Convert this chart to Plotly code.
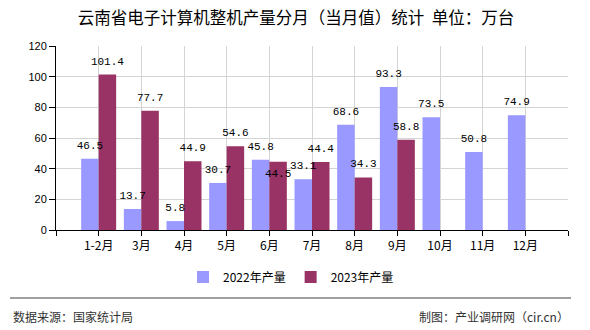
import plotly.graph_objects as go

categories = ["1-2月", "3月", "4月", "5月", "6月", "7月", "8月", "9月", "10月", "11月", "12月"]
values_2022 = [46.5, 13.7, 5.8, 30.7, 45.8, 33.1, 68.6, 93.3, 73.5, 50.8, 74.9]
values_2023 = [101.4, 77.7, 44.9, 54.6, 44.5, 44.4, 34.3, 58.8]
name_2022 = "2022年产量"
name_2023 = "2023年产量"
y_ticks = [0, 20, 40, 60, 80, 100, 120]

W, H = 590, 330
L, R, T, B = 56, 22, 46, 100
PW, PH = W - L - R, H - T - B
BAR_W = 0.41


def px_x(p):
    return (p - L) / PW


def px_y(p):
    return (H - B - p) / PH


label_font = dict(family="Liberation Mono, monospace", size=11, color="#000")
x22 = list(range(len(values_2022)))
x23 = list(range(len(values_2023)))

fig = go.Figure()
fig.add_trace(go.Bar(
    x=x22, y=values_2022, name=name_2022, width=BAR_W, offset=-BAR_W,
    marker=dict(color="#9999FF", line=dict(width=0)),
))
fig.add_trace(go.Bar(
    x=x23, y=values_2023, name=name_2023, width=BAR_W, offset=0,
    marker=dict(color="#993366", line=dict(width=0)),
))

# value labels on top of all bars (centred on each bar)
pos22 = ["top center"] * len(values_2022)
pos23 = ["top center"] * len(values_2023)
pos23[4] = "bottom center"  # reference nudges this label down to avoid 45.8
fig.add_trace(go.Scatter(
    x=[i - BAR_W / 2 for i in x22], y=values_2022, mode="markers+text",
    text=[f"{v}" for v in values_2022], textposition=pos22, textfont=label_font,
    marker=dict(size=10, color="rgba(0,0,0,0)"), showlegend=False,
    hoverinfo="skip", cliponaxis=False,
))
fig.add_trace(go.Scatter(
    x=[i + BAR_W / 2 for i in x23], y=values_2023, mode="markers+text",
    text=[f"{v}" for v in values_2023], textposition=pos23, textfont=label_font,
    marker=dict(size=10, color="rgba(0,0,0,0)"), showlegend=False,
    hoverinfo="skip", cliponaxis=False,
))

tickvals = list(range(-1, len(categories) + 1))
ticktext = [""] + categories + [""]

fig.update_layout(
    width=W, height=H,
    margin=dict(l=L, r=R, t=T, b=B, pad=0),
    paper_bgcolor="white", plot_bgcolor="white",
    barmode="overlay",
    font=dict(family="Noto Sans CJK SC, sans-serif", size=12, color="#000"),
    title=dict(
        text="云南省电子计算机整机产量分月（当月值）统计  单位：万台",
        x=px_x(296), xref="paper", xanchor="center",
        y=1 - 18 / H, yref="container", yanchor="middle",
        font=dict(family="Noto Sans CJK SC, sans-serif", size=16.5, color="#000"),
    ),
    xaxis=dict(
        range=[-1, len(categories)], tickmode="array",
        tickvals=tickvals, ticktext=ticktext,
        showgrid=True, gridcolor="#d4d4d4", gridwidth=1,
        showline=True, linecolor="#000", linewidth=1,
        ticks="outside", ticklen=5, tickcolor="#000",
        tickfont=dict(family="Noto Sans CJK SC, sans-serif", size=12, color="#000"),
        zeroline=False, fixedrange=True,
    ),
    yaxis=dict(
        range=[0, 120], tickvals=y_ticks,
        showgrid=True, gridcolor="#d4d4d4", gridwidth=1,
        showline=True, linecolor="#000", linewidth=1,
        ticks="outside", ticklen=6, tickcolor="#000",
        tickfont=dict(family="Liberation Sans, Arial, sans-serif", size=11, color="#000"),
        zeroline=False, fixedrange=True,
    ),
    legend=dict(
        orientation="h", x=px_x(291), xanchor="center",
        y=px_y(277), yanchor="middle",
        font=dict(family="Noto Sans CJK SC, sans-serif", size=12, color="#000"),
        itemsizing="constant", bgcolor="rgba(0,0,0,0)",
    ),
    showlegend=True,
)

fig.add_shape(type="line", xref="paper", yref="paper",
              x0=px_x(10), x1=px_x(571), y0=px_y(298), y1=px_y(298),
              line=dict(color="#808080", width=1.5))
fig.add_annotation(text="数据来源：国家统计局", xref="paper", yref="paper",
                   x=px_x(11), y=px_y(316), xanchor="left", yanchor="middle",
                   showarrow=False,
                   font=dict(family="Noto Sans CJK SC, sans-serif", size=12, color="#333"))
fig.add_annotation(text="制图：产业调研网（cir.cn）", xref="paper", yref="paper",
                   x=px_x(571), y=px_y(316), xanchor="right", yanchor="middle",
                   showarrow=False,
                   font=dict(family="Noto Sans CJK SC, sans-serif", size=12, color="#333"))

fig.write_html("out.html", config={"displayModeBar": False})
